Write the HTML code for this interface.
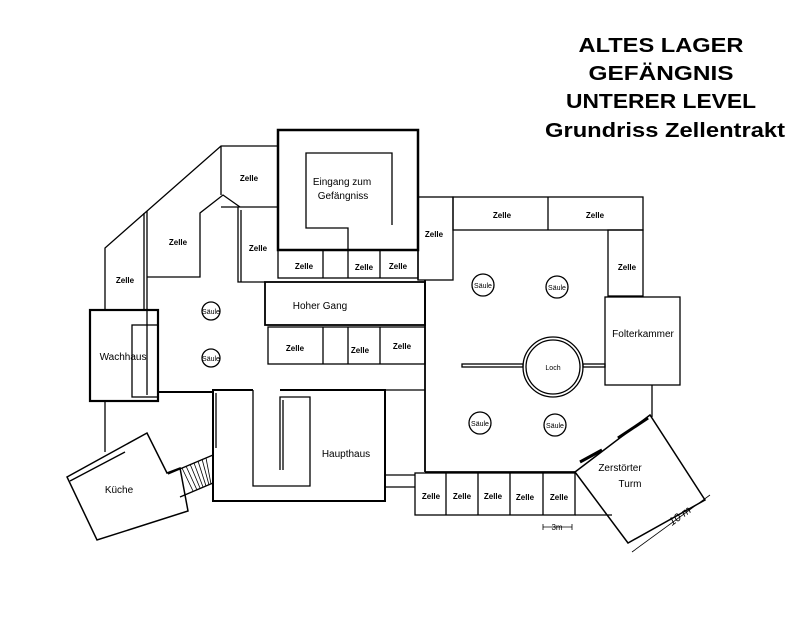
<!DOCTYPE html>
<html><head><meta charset="utf-8"><style>
html,body{margin:0;padding:0;background:#fff;}
svg{display:block;}
text{font-family:"Liberation Sans",sans-serif;fill:#000;}
.z{font-size:8px;font-weight:bold;text-anchor:middle;}
.s{font-size:7px;text-anchor:middle;}
.l{font-size:10px;text-anchor:middle;}
.t{font-size:20px;font-weight:bold;text-anchor:middle;}
</style></head><body>
<svg width="800" height="623" viewBox="0 0 800 623" xmlns="http://www.w3.org/2000/svg">
<g fill="none" stroke="#000" stroke-width="1.3">
<polyline points="105,310 105,248 221,146 278,146"/>
<line x1="221" y1="146" x2="221" y2="195"/>
<line x1="221" y1="207" x2="278" y2="207"/>
<line x1="144" y1="213" x2="144" y2="310"/>
<polyline points="147,277 200,277 200,213 223,195 240,207"/>
<line x1="147" y1="211" x2="147" y2="395"/>
<polyline points="238,207 238,282 265,282"/>
<line x1="241" y1="210" x2="241" y2="282"/>
<rect x="278" y="130" width="140" height="120" stroke-width="2.5"/>
<polyline points="392,225 392,153 306,153 306,228 348,228 348,250"/>
<rect x="278" y="250" width="140" height="28"/>
<line x1="323" y1="250" x2="323" y2="278"/>
<line x1="348" y1="250" x2="348" y2="278"/>
<line x1="380" y1="250" x2="380" y2="278"/>
<rect x="265" y="282" width="160" height="43" stroke-width="1.8"/>
<rect x="268" y="327" width="157" height="37"/>
<line x1="323" y1="327" x2="323" y2="364"/>
<line x1="348" y1="327" x2="348" y2="364"/>
<line x1="380" y1="327" x2="380" y2="364"/>
<rect x="90" y="310" width="68" height="91" stroke-width="2.2"/>
<rect x="132" y="325" width="26" height="72"/>
<line x1="158" y1="392" x2="213" y2="392" stroke-width="2"/>
<line x1="105" y1="401" x2="105" y2="452"/>
<polyline points="253,390 213,390 213,501 385,501 385,390 280,390" stroke-width="2"/>
<line x1="216" y1="393" x2="216" y2="448"/>
<polyline points="253,390 253,486 310,486 310,397 280,397 280,470"/>
<line x1="283" y1="400" x2="283" y2="470"/>
<polygon points="67,477 147,433 167,473 180,468 188,511 97,540" stroke-width="1.5"/>
<line x1="70" y1="481" x2="125" y2="452"/>
<line x1="168" y1="474" x2="213" y2="455"/>
<line x1="180" y1="497" x2="213" y2="483"/>
<g stroke-width="0.8">
<line x1="182" y1="468" x2="193" y2="491"/><line x1="186" y1="466" x2="197" y2="490"/>
<line x1="190" y1="464" x2="200" y2="488"/><line x1="194" y1="463" x2="203" y2="487"/>
<line x1="198" y1="461" x2="206" y2="486"/><line x1="202" y1="459" x2="209" y2="485"/>
<line x1="206" y1="458" x2="211" y2="484"/>
</g>
<line x1="385" y1="390" x2="425" y2="390"/>
<line x1="385" y1="475" x2="415" y2="475"/>
<line x1="385" y1="487" x2="415" y2="487"/>
<line x1="418" y1="250" x2="418" y2="280"/>
<rect x="418" y="197" width="35" height="83"/>
<rect x="453" y="197" width="190" height="33"/>
<line x1="548" y1="197" x2="548" y2="230"/>
<rect x="608" y="230" width="35" height="66"/>
<rect x="605" y="297" width="75" height="88"/>
<line x1="425" y1="280" x2="425" y2="472" stroke-width="1.8"/>
<line x1="425" y1="472" x2="575" y2="472" stroke-width="1.8"/>
<rect x="415" y="473" width="160" height="42"/>
<line x1="446" y1="473" x2="446" y2="515"/>
<line x1="478" y1="473" x2="478" y2="515"/>
<line x1="510" y1="473" x2="510" y2="515"/>
<line x1="543" y1="473" x2="543" y2="515"/>
<line x1="575" y1="515" x2="612" y2="515"/>
<line x1="652" y1="385" x2="652" y2="417"/>
<polygon points="575,472 650,415 705,500 628,543" stroke-width="1.5"/>
<line x1="580" y1="462" x2="602" y2="450" stroke-width="3"/>
<line x1="618" y1="438" x2="648" y2="418" stroke-width="3"/>
<circle cx="553" cy="367" r="30"/>
<circle cx="553" cy="367" r="27"/>
<rect x="462" y="364" width="61" height="3"/>
<rect x="583" y="364" width="22" height="3"/>
<circle cx="211" cy="311" r="9"/><circle cx="211" cy="358" r="9"/>
<circle cx="483" cy="285" r="11"/><circle cx="557" cy="287" r="11"/>
<circle cx="480" cy="423" r="11"/><circle cx="555" cy="425" r="11"/>
<line x1="543" y1="527" x2="572" y2="527" stroke-width="0.8"/>
<line x1="543" y1="524" x2="543" y2="530" stroke-width="0.8"/>
<line x1="572" y1="524" x2="572" y2="530" stroke-width="0.8"/>
<line x1="632" y1="552" x2="710" y2="495" stroke-width="0.8"/>
</g>
<g>
<text class="t" x="661" y="52" textLength="165" lengthAdjust="spacingAndGlyphs">ALTES LAGER</text>
<text class="t" x="661" y="80" textLength="145" lengthAdjust="spacingAndGlyphs">GEFÄNGNIS</text>
<text class="t" x="661" y="108" textLength="190" lengthAdjust="spacingAndGlyphs">UNTERER LEVEL</text>
<text class="t" x="665" y="137" textLength="240" lengthAdjust="spacingAndGlyphs">Grundriss Zellentrakt</text>
<text class="z" x="249" y="181">Zelle</text>
<text class="z" x="178" y="245">Zelle</text>
<text class="z" x="258" y="251">Zelle</text>
<text class="z" x="125" y="283">Zelle</text>
<text class="z" x="304" y="269">Zelle</text>
<text class="z" x="364" y="270">Zelle</text>
<text class="z" x="398" y="269">Zelle</text>
<text class="z" x="295" y="351">Zelle</text>
<text class="z" x="360" y="353">Zelle</text>
<text class="z" x="402" y="349">Zelle</text>
<text class="z" x="434" y="237">Zelle</text>
<text class="z" x="502" y="218">Zelle</text>
<text class="z" x="595" y="218">Zelle</text>
<text class="z" x="627" y="270">Zelle</text>
<text class="z" x="431" y="499">Zelle</text>
<text class="z" x="462" y="499">Zelle</text>
<text class="z" x="493" y="499">Zelle</text>
<text class="z" x="525" y="500">Zelle</text>
<text class="z" x="559" y="500">Zelle</text>
<text class="l" x="342" y="185">Eingang zum</text>
<text class="l" x="343" y="199">Gefängniss</text>
<text class="l" x="320" y="309">Hoher Gang</text>
<text class="l" x="123" y="360">Wachhaus</text>
<text class="l" x="346" y="457">Haupthaus</text>
<text class="l" x="119" y="493">Küche</text>
<text class="l" x="643" y="337">Folterkammer</text>
<text class="l" x="620" y="471">Zerstörter</text>
<text class="l" x="630" y="487">Turm</text>
<text class="s" x="553" y="370">Loch</text>
<text class="s" x="211" y="314">Säule</text>
<text class="s" x="211" y="361">Säule</text>
<text class="s" x="483" y="288">Säule</text>
<text class="s" x="557" y="290">Säule</text>
<text class="s" x="480" y="426">Säule</text>
<text class="s" x="555" y="428">Säule</text>
<text x="557" y="530" style="font-size:8px;text-anchor:middle">3m</text>
<text x="672" y="526" style="font-size:11px;font-style:italic" transform="rotate(-36 672 526)">10 m</text>
</g>
</svg>
</body></html>
